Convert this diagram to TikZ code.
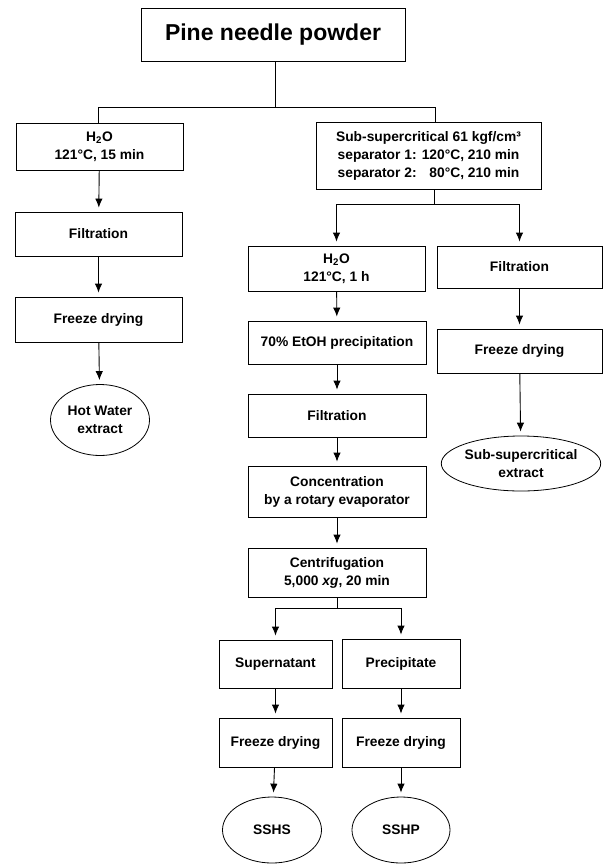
\documentclass[tikz,border=0pt]{standalone}
\usepackage{fontspec}
\setmainfont{Liberation Sans}
\usetikzlibrary{shapes.geometric,arrows.meta}
\tikzset{
  box/.style={draw, line width=0.9pt, inner sep=0pt, align=center, font=\bfseries\fontsize{13.8}{18}\selectfont},
  oval/.style={draw, ellipse, line width=0.8pt, inner sep=0pt, align=center, font=\bfseries\fontsize{13.8}{18}\selectfont},
  lnk/.style={line width=0.9pt},
  arr/.style={line width=0.9pt, -{Latex[length=9pt,width=7.5pt]}, shorten >=4pt}
}
\begin{document}
\begin{tikzpicture}[x=1pt,y=-1pt]
\useasboundingbox (0,0) rectangle (605,865);
% nodes
\node[box, minimum width=264pt, minimum height=53pt, font=\bfseries\fontsize{23}{26}\selectfont] (top) at (273,34.5) {Pine needle powder};
\node[box, minimum width=167pt, minimum height=47pt] (lh2o) at (99.5,146.5) {H\textsubscript{2}O\\121°C, 15 min};
\node[box, minimum width=225pt, minimum height=67pt] (rsub) at (428.5,155.5) {Sub-supercritical 61 kgf/cm³\\separator 1: 120°C, 210 min\\separator 2: \phantom{1}80°C, 210 min};
\node[box, minimum width=167pt, minimum height=44pt] (lfilt) at (98.5,234) {Filtration};
\node[box, minimum width=167pt, minimum height=45pt] (lfrz) at (98.5,319.5) {Freeze drying};
\node[oval, minimum width=99pt, minimum height=71pt] (hot) at (100,420) {Hot Water\\extract};
\node[box, minimum width=177pt, minimum height=45pt] (mh2o) at (336.5,268.5) {H\textsubscript{2}O\\121°C, 1 h};
\node[box, minimum width=165pt, minimum height=42pt] (rfilt) at (519.5,267) {Filtration};
\node[box, minimum width=178pt, minimum height=43pt] (etoh) at (337,342.5) {70\% EtOH precipitation};
\node[box, minimum width=165pt, minimum height=44pt] (rfrz) at (519.5,351) {Freeze drying};
\node[box, minimum width=178pt, minimum height=43pt] (mfilt) at (337,415.5) {Filtration};
\node[oval, minimum width=135pt, minimum height=55pt] (subx) at (521,463.5) {Sub-supercritical\\extract};
\node[box, minimum width=178pt, minimum height=51pt] (conc) at (337,491.5) {Concentration\\by a rotary evaporator};
\node[box, minimum width=178pt, minimum height=49pt] (cent) at (337,572.5) {Centrifugation\\5,000 \textit{xg}, 20 min};
\node[box, minimum width=113pt, minimum height=48pt] (super) at (275.5,664) {Supernatant};
\node[box, minimum width=118pt, minimum height=49pt] (precip) at (401,663.5) {Precipitate};
\node[box, minimum width=113pt, minimum height=49pt] (fd1) at (275.5,742.5) {Freeze drying};
\node[box, minimum width=118pt, minimum height=49pt] (fd2) at (401,742.5) {Freeze drying};
\node[oval, minimum width=99pt, minimum height=66pt] (sshs) at (272,830) {SSHS};
\node[oval, minimum width=98pt, minimum height=66pt] (sshp) at (401,830) {SSHP};
% junctions
\coordinate (j1) at (275,107);
\coordinate (jl) at (98,107);
\coordinate (jr) at (435,107);
\coordinate (j2) at (434,204);
\coordinate (j3) at (337,608);
% connectors
\draw[lnk] (top.south -| j1) -- (j1);
\draw[lnk] (lh2o.north -| jl) -- (jl) -- (jr) -- (rsub.north -| jr);
\draw[arr] (lh2o) -- (lfilt);
\draw[arr] (lfilt) -- (lfrz);
\draw[arr] (lfrz) -- (hot);
\draw[lnk] (rsub.south -| j2) -- (j2);
\draw[arr] (j2) -| (mh2o.north);
\draw[arr] (j2) -| (rfilt.north);
\draw[arr] (mh2o) -- (etoh);
\draw[arr] (etoh) -- (mfilt);
\draw[arr] (mfilt) -- (conc);
\draw[arr] (conc) -- (cent);
\draw[arr] (rfilt) -- (rfrz);
\draw[arr] (rfrz) -- (subx);
\draw[lnk] (cent) -- (j3);
\draw[arr] (j3) -| (super.north);
\draw[arr] (j3) -| (precip.north);
\draw[arr] (super) -- (fd1);
\draw[arr] (precip) -- (fd2);
\draw[arr] (fd1) -- (sshs);
\draw[arr] (fd2) -- (sshp);
\end{tikzpicture}
\end{document}
